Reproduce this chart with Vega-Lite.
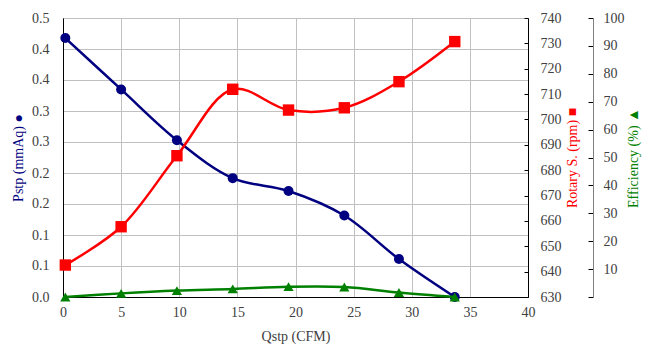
{
  "$schema": "https://vega.github.io/schema/vega-lite/v6.json",
  "autosize": "none",
  "width": 465,
  "height": 279,
  "padding": {"left": 63, "top": 18, "right": 119, "bottom": 59},
  "background": "white",
  "config": {
    "font": "Liberation Serif",
    "view": {"stroke": "#000000", "strokeWidth": 1},
    "axis": {
      "labelFont": "Liberation Serif",
      "titleFont": "Liberation Serif",
      "labelFontSize": 14,
      "titleFontSize": 14,
      "titleFontWeight": "normal",
      "labelColor": "#404040",
      "titleColor": "#404040",
      "gridColor": "#c0c0c0",
      "gridWidth": 1,
      "domainColor": "#000000",
      "tickColor": "#000000"
    }
  },
  "data": {
    "values": [
      {"q": 0.2, "p": 0.464, "rpm": 642.6, "eff": 0.0},
      {"q": 5.0, "p": 0.372, "rpm": 657.7, "eff": 1.3},
      {"q": 9.8, "p": 0.281, "rpm": 685.7, "eff": 2.3},
      {"q": 14.6, "p": 0.213, "rpm": 711.9, "eff": 2.9},
      {"q": 19.4, "p": 0.19, "rpm": 703.7, "eff": 3.7},
      {"q": 24.2, "p": 0.146, "rpm": 704.6, "eff": 3.6},
      {"q": 28.9, "p": 0.068, "rpm": 714.9, "eff": 1.6},
      {"q": 33.7, "p": 0.0, "rpm": 730.7, "eff": 0.0}
    ]
  },
  "encoding": {
    "x": {
      "field": "q",
      "type": "quantitative",
      "scale": {"domain": [0, 40], "nice": false, "zero": false},
      "axis": {
        "title": "Qstp (CFM)",
        "values": [0, 5, 10, 15, 20, 25, 30, 35, 40],
        "grid": true,
        "ticks": false,
        "labelFont": "Liberation Serif",
        "labelPadding": 8,
        "titlePadding": 10,
        "labelFlush": false
      }
    }
  },
  "layer": [
    {
      "encoding": {
        "y": {
          "field": "p",
          "type": "quantitative",
          "scale": {"domain": [0, 0.5], "nice": false},
          "axis": {
            "orient": "left",
            "title": "Pstp (mmAq) ●",
            "titleColor": "#000080",
            "labelFont": "Liberation Serif",
            "values": [0, 0.055556, 0.111111, 0.166667, 0.222222, 0.277778, 0.333333, 0.388889, 0.444444, 0.5],
            "format": ".1f",
            "grid": true,
            "ticks": false,
            "labelPadding": 14,
            "titlePadding": 6,
            "labelFlush": false
          }
        }
      },
      "layer": [
        {"mark": {"type": "line", "color": "#000080", "strokeWidth": 2.5, "interpolate": "catmull-rom"}},
        {"mark": {"type": "point", "shape": "circle", "filled": true, "opacity": 1, "color": "#000080", "size": 100}}
      ]
    },
    {
      "encoding": {
        "y": {
          "field": "rpm",
          "type": "quantitative",
          "scale": {"domain": [630, 740], "nice": false, "zero": false},
          "axis": {
            "orient": "right",
            "title": "Rotary S. (rpm) ■",
            "titleColor": "#ff0000",
            "titleAngle": 270,
            "titleBaseline": "top",
            "labelFont": "Liberation Serif",
            "values": [630, 640, 650, 660, 670, 680, 690, 700, 710, 720, 730, 740],
            "grid": false,
            "tickSize": -4,
            "labelPadding": 16,
            "titlePadding": 4,
            "labelFlush": false
          }
        }
      },
      "layer": [
        {"mark": {"type": "line", "color": "#ff0000", "strokeWidth": 2.5, "interpolate": "catmull-rom"}},
        {"mark": {"type": "point", "shape": "square", "filled": true, "opacity": 1, "color": "#ff0000", "size": 130}}
      ]
    },
    {
      "encoding": {
        "y": {
          "field": "eff",
          "type": "quantitative",
          "scale": {"domain": [0, 100], "nice": false},
          "axis": {
            "orient": "right",
            "offset": 65,
            "title": "Efficiency (%) ▲",
            "titleColor": "#008000",
            "titleAngle": 270,
            "titleBaseline": "top",
            "labelFont": "Liberation Serif",
            "values": [0, 10, 20, 30, 40, 50, 60, 70, 80, 90, 100],
            "labelExpr": "datum.value == 0 ? '' : datum.label",
            "grid": false,
            "domainColor": "#808080",
            "tickSize": -5,
            "labelPadding": 15,
            "titlePadding": 2,
            "labelFlush": false
          }
        }
      },
      "layer": [
        {"mark": {"type": "line", "color": "#008000", "strokeWidth": 2.5, "interpolate": "catmull-rom"}},
        {"mark": {"type": "point", "shape": "triangle-up", "filled": true, "opacity": 1, "color": "#008000", "size": 105}}
      ]
    }
  ],
  "resolve": {"scale": {"y": "independent"}}
}
